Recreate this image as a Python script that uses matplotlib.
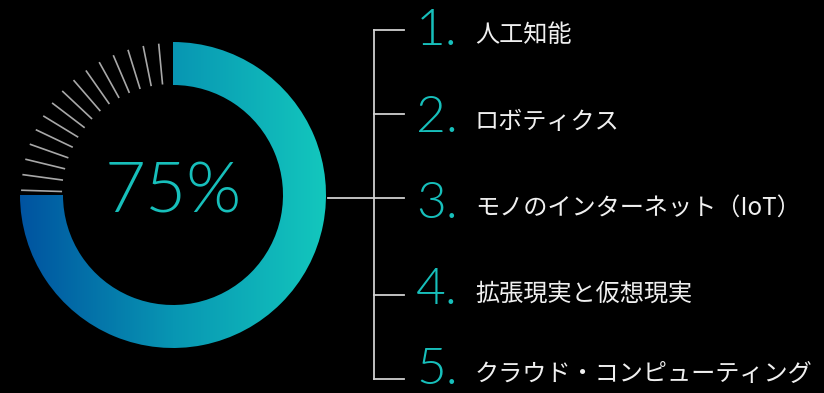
import numpy as np
import matplotlib
matplotlib.use("Agg")
import matplotlib.pyplot as plt
from matplotlib.patches import Wedge
from matplotlib.colors import LinearSegmentedColormap

# データ
percent = 75
numbers = ["1.", "2.", "3.", "4.", "5."]
labels = ["人工知能", "ロボティクス", "モノのインターネット（IoT）",
          "拡張現実と仮想現実", "クラウド・コンピューティング"]

W, H = 824, 393
teal = "#17bfbb"
cmap = LinearSegmentedColormap.from_list("ring", ["#0053a0", "#0896b3", "#13c7bd"])

fig = plt.figure(figsize=(W / 100, H / 100), dpi=100, facecolor="black")
ax = fig.add_axes([0, 0, 1, 1])
ax.set_xlim(0, W)
ax.set_ylim(0, H)
ax.set_aspect("equal")
ax.axis("off")
ax.set_facecolor("black")

# リング
cx, cy = 173, H - 195
R, r = 153, 110
t2 = 90 + 360
t1 = t2 - 360 * percent / 100
ring = Wedge((cx, cy), R, t1, t2, width=R - r, facecolor="none", edgecolor="none")
ax.add_patch(ring)
grad = np.linspace(0, 1, 256).reshape(1, -1)
im = ax.imshow(grad, cmap=cmap, extent=(cx - R, cx + R, cy - R, cy + R),
               aspect="auto", interpolation="bicubic", zorder=1)
im.set_clip_path(ring)

# 残りの目盛り線
gap = 360 - (t2 - t1)
angles = np.radians(90 + np.linspace(0.06, 0.98, 15) * gap)
for a in angles:
    ax.plot([cx + (r + 1) * np.cos(a), cx + (R - 1) * np.cos(a)],
            [cy + (r + 1) * np.sin(a), cy + (R - 1) * np.sin(a)],
            color="#a8a8a8", lw=1.2, solid_capstyle="butt")

ax.text(cx, cy + 2, f"{percent}%", color=teal, fontsize=51, ha="center", va="center",
        family=["Lato", "DejaVu Sans"], fontweight=300)

# ブラケット
line_y = [30, 114, 198, 295, 379]
num_base = [45, 132, 218, 304, 384]
bx = 374
ax.plot([bx, bx], [H - line_y[0], H - line_y[-1]], color="#d0d0d0", lw=1.3)
for ly in line_y:
    ax.plot([bx, 404], [H - ly, H - ly], color="#d0d0d0", lw=1.3)
ax.plot([cx + R + 2, bx], [H - line_y[2], H - line_y[2]], color="#d0d0d0", lw=1.3)

for num, lab, nb in zip(numbers, labels, num_base):
    ax.text(416, H - nb, num, color=teal, fontsize=37, ha="left", va="baseline",
            family=["Lato", "DejaVu Sans"], fontweight=300)
    ax.text(475, H - nb + 3, lab, color="#f0f0f0", fontsize=17.4, ha="left", va="baseline",
            family=["Noto Sans CJK JP", "DejaVu Sans"])

fig.savefig("out.png", dpi=100, facecolor="black")
